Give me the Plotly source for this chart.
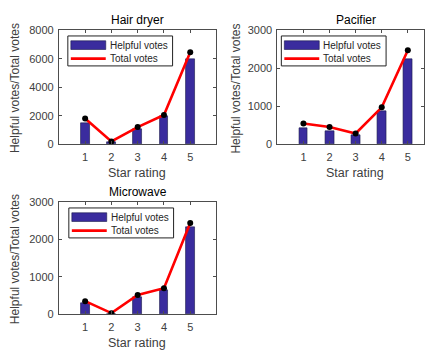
import plotly.graph_objects as go

# ---- data ----
stars = [1, 2, 3, 4, 5]
star_ticks = ["1", "2", "3", "4", "5"]

hair_helpful = [1470, 150, 1060, 1990, 5980]
hair_total = [1800, 190, 1200, 2050, 6450]

pac_helpful = [420, 355, 235, 870, 2250]
pac_total = [545, 450, 280, 970, 2470]

micro_helpful = [300, 10, 460, 640, 2330]
micro_total = [350, 30, 515, 695, 2440]

titles = ["Hair dryer", "Pacifier", "Microwave"]
legend_names = ["Helpful votes", "Total votes"]

W, H = 425, 356
BAR = "#3a2c9e"
RED = "#ff0000"
AXC = "#4d4d4d"
TXT = "#404040"
FONT = "Liberation Sans, Arial, sans-serif"

def px(x):
    return x / W

def py(y):
    return 1 - y / H

fig = go.Figure()

panels = [
    # helpful, total, xaxis, yaxis, x0,x1,y0,y1 (pixels), xrange, yrange, ytickvals, legend-left, title-center
    (hair_helpful, hair_total, "x", "y", 59, 217, 25, 143, [0, 6], [0, 8000], [0, 2000, 4000, 6000, 8000], 68, 138),
    (pac_helpful, pac_total, "x2", "y2", 278, 425, 25, 143, [0, 5.62], [0, 3000], [0, 1000, 2000, 3000], 282, 357),
    (micro_helpful, micro_total, "x3", "y3", 59, 217, 203, 319, [0, 6], [0, 3000], [0, 1000, 2000, 3000], 69, 138),
]

annotations = []
shapes = []
for i, (hv, tv, xa, ya, x0, x1, y0, y1, xr, yr, yt, L, cx) in enumerate(panels):
    fig.add_trace(go.Bar(x=stars, y=hv, name=legend_names[0], width=0.33,
                         marker=dict(color=BAR, line=dict(color="#1a1a4a", width=0.6)),
                         xaxis=xa, yaxis=ya, showlegend=False))
    fig.add_trace(go.Scatter(x=stars, y=tv, name=legend_names[1], mode="lines",
                             line=dict(color=RED, width=2.6),
                             xaxis=xa, yaxis=ya, showlegend=False))
    fig.add_trace(go.Scatter(x=stars, y=tv, mode="markers", showlegend=False,
                             marker=dict(color="black", size=6),
                             xaxis=xa, yaxis=ya))
    sfx = "" if i == 0 else str(i + 1)
    fig.layout["xaxis" + sfx] = dict(
        domain=[px(x0), px(x1)], range=xr, anchor=ya,
        tickvals=stars, ticktext=star_ticks, ticks="inside", ticklen=3,
        showline=True, linecolor=AXC, linewidth=1, mirror="ticks",
        tickcolor=AXC, showgrid=False, zeroline=False, fixedrange=True,
        tickfont=dict(size=11, color=TXT, family=FONT), ticklabelstandoff=3,
    )
    fig.layout["yaxis" + sfx] = dict(
        domain=[py(y1), py(y0)], range=yr, anchor=xa,
        tickvals=yt, ticks="inside", ticklen=3,
        showline=True, linecolor=AXC, linewidth=1, mirror="ticks",
        tickcolor=AXC, showgrid=False, zeroline=False, fixedrange=True,
        tickfont=dict(size=11, color=TXT, family=FONT), ticklabelstandoff=2,
    )
    # legend box (drawn by hand to match the wide swatches)
    T = y0 + 6
    shapes.append(dict(type="rect", xref="paper", yref="paper",
                       x0=px(L), x1=px(L + 105), y0=py(T + 31), y1=py(T),
                       fillcolor="white", line=dict(color="#222222", width=1), layer="above"))
    shapes.append(dict(type="rect", xref="paper", yref="paper",
                       x0=px(L + 3), x1=px(L + 38), y0=py(T + 14), y1=py(T + 5),
                       fillcolor=BAR, line=dict(color="#1a1a4a", width=0.6), layer="above"))
    shapes.append(dict(type="line", xref="paper", yref="paper",
                       x0=px(L + 3), x1=px(L + 38), y0=py(T + 23.5), y1=py(T + 23.5),
                       line=dict(color=RED, width=2.6), layer="above"))
    annotations.append(dict(text=legend_names[0], x=px(L + 40), y=py(T + 9.5), xref="paper", yref="paper",
                            xanchor="left", yanchor="middle", showarrow=False,
                            font=dict(size=10, color="#262626", family=FONT)))
    annotations.append(dict(text=legend_names[1], x=px(L + 40), y=py(T + 23.5), xref="paper", yref="paper",
                            xanchor="left", yanchor="middle", showarrow=False,
                            font=dict(size=10, color="#262626", family=FONT)))
    annotations.append(dict(text=titles[i], x=px(cx), y=py(y0 - 1), xref="paper", yref="paper",
                            xanchor="center", yanchor="bottom", showarrow=False,
                            font=dict(size=12, color="black", family=FONT)))
    annotations.append(dict(text="Star rating", x=px(cx - 1), y=py(y1 + 30), xref="paper", yref="paper",
                            xanchor="center", yanchor="middle", showarrow=False,
                            font=dict(size=12.5, color=TXT, family=FONT)))
    ax = 15 if i != 1 else 237
    annotations.append(dict(text="Helpful votes/Total votes", x=px(ax), y=py((y0 + y1) / 2 + 1),
                            xref="paper", yref="paper", textangle=-90,
                            xanchor="center", yanchor="middle", showarrow=False,
                            font=dict(size=12, color=TXT, family=FONT)))

fig.update_layout(
    width=W, height=H, margin=dict(l=0, r=0, t=0, b=0),
    paper_bgcolor="white", plot_bgcolor="white",
    annotations=annotations, shapes=shapes, bargap=0, showlegend=False,
    font=dict(family=FONT),
)

fig.write_html("out.html", config={"displayModeBar": False},
               post_script="document.body.style.margin='0';document.body.style.overflow='hidden';")
